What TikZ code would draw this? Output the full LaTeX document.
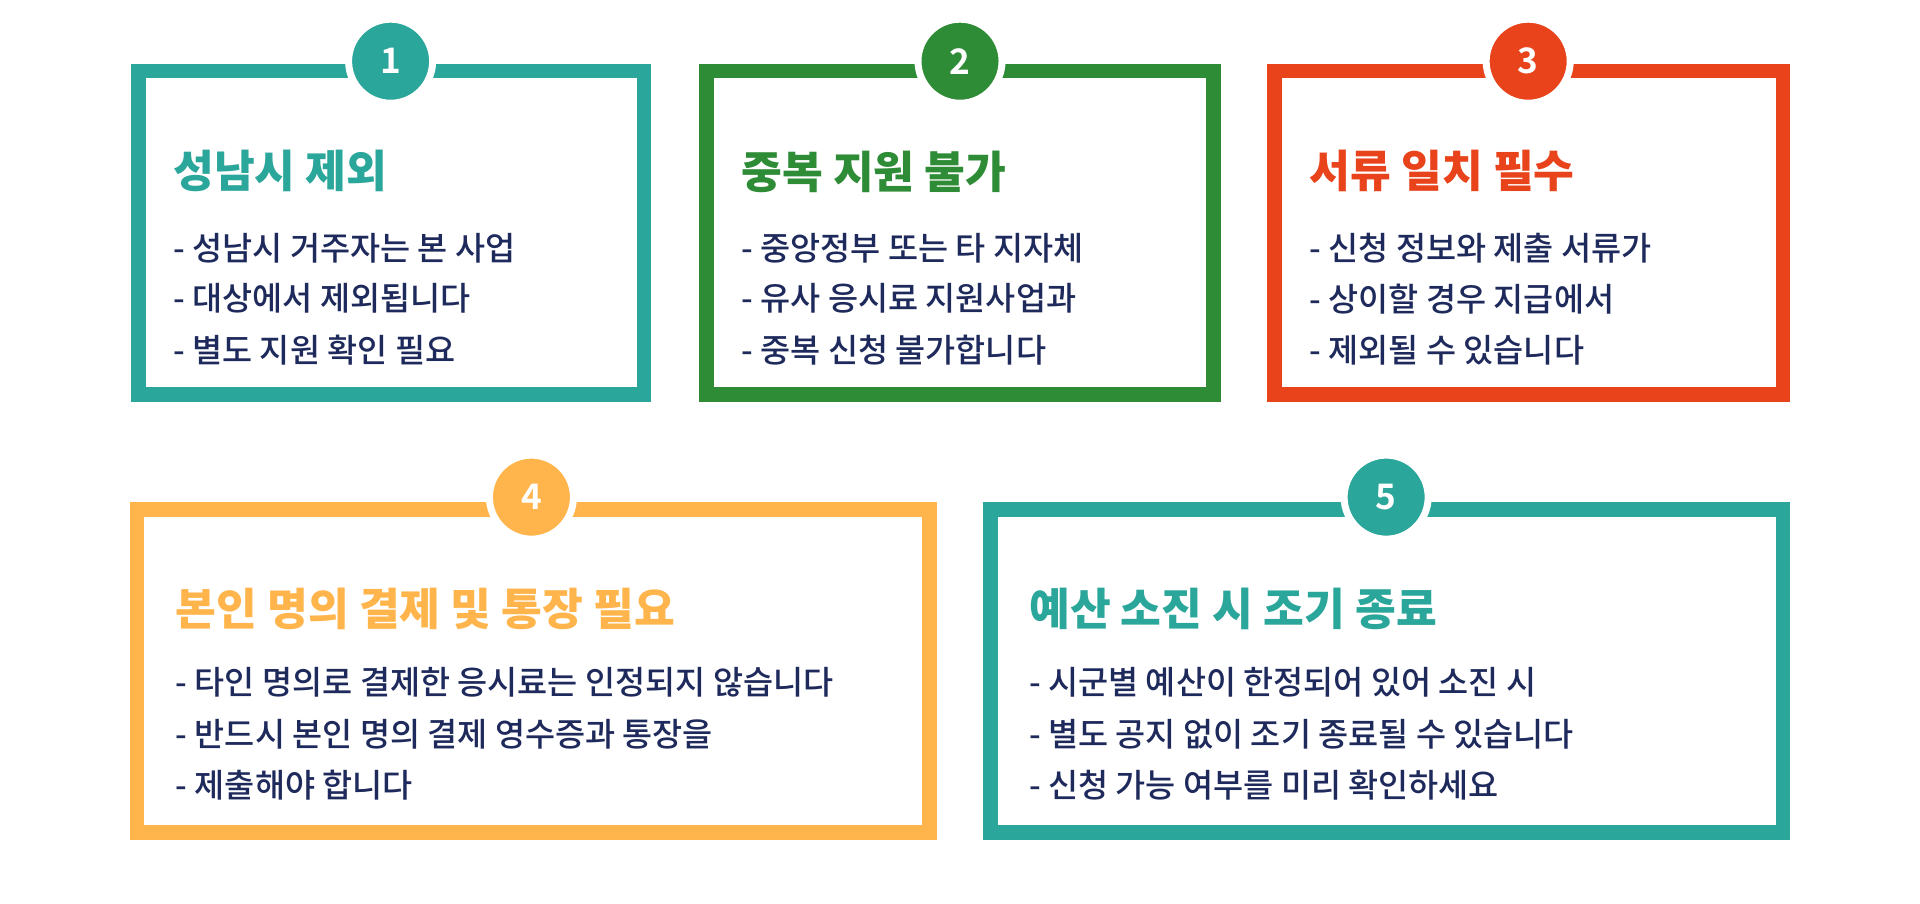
\documentclass[tikz,border=0pt]{standalone}
\usepackage{fontspec}
\setmainfont{Noto Sans CJK KR Medium}
\newfontfamily\kbold{Noto Sans CJK KR Black}
\newfontfamily\kbadge{Noto Sans CJK KR Bold}
\definecolor{cteal}{HTML}{2BA69A}
\definecolor{cgreen}{HTML}{2E8B36}
\definecolor{cred}{HTML}{E8431B}
\definecolor{corange}{HTML}{FFB54C}
\definecolor{cnavy}{HTML}{1F2A5C}
\begin{document}
\begin{tikzpicture}[x=0.012245cm,y=-0.012245cm,
  card/.style={draw=#1,line width=0.147cm},
  badge/.style={circle,fill=#1,draw=white,line width=0.07cm,minimum size=0.84cm,text=white,font=\kbadge\fontsize{10}{12}\selectfont},
  ttl/.style={anchor=west,inner sep=0pt,text=#1,font=\kbold\fontsize{12.6}{14}\selectfont},
  body/.style={anchor=west,inner sep=0pt,text=cnavy,font=\fontsize{9.3}{11}\selectfont}]
\useasboundingbox (0,0) rectangle (1568,738);
\fill[white] (0,0) rectangle (1568,738);
% cards
\draw[card=cteal] (113,58) rectangle (526,322);
\draw[card=cgreen] (577,58) rectangle (991,322);
\draw[card=cred] (1041,58) rectangle (1456,322);
\draw[card=corange] (112,416) rectangle (759,680);
\draw[card=cteal] (809,416) rectangle (1456,680);
% badges
\node[badge=cteal] (b1) at (319,50) {1};
\node[badge=cgreen] (b2) at (784,50) {2};
\node[badge=cred] (b3) at (1248,50) {3};
\node[badge=corange] (b4) at (434,406) {4};
\node[badge=cteal] (b5) at (1132,406) {5};
% card 1
\node[ttl=cteal] (t1) at (141,140) {성남시 제외};
\node[body] (l11) at (141,203) {- 성남시 거주자는 본 사업};
\node[body] (l12) at (141,244) {- 대상에서 제외됩니다};
\node[body] (l13) at (141,286) {- 별도 지원 확인 필요};
% card 2
\node[ttl=cgreen] (t2) at (605,140) {중복 지원 불가};
\node[body] (l21) at (605,203) {- 중앙정부 또는 타 지자체};
\node[body] (l22) at (605,244) {- 유사 응시료 지원사업과};
\node[body] (l23) at (605,286) {- 중복 신청 불가합니다};
% card 3
\node[ttl=cred] (t3) at (1069,140) {서류 일치 필수};
\node[body] (l31) at (1069,203) {- 신청 정보와 제출 서류가};
\node[body] (l32) at (1069,244) {- 상이할 경우 지급에서};
\node[body] (l33) at (1069,286) {- 제외될 수 있습니다};
% card 4
\node[ttl=corange] (t4) at (143,497) {본인 명의 결제 및 통장 필요};
\node[body] (l41) at (143,557) {- 타인 명의로 결제한 응시료는 인정되지 않습니다};
\node[body] (l42) at (143,600) {- 반드시 본인 명의 결제 영수증과 통장을};
\node[body] (l43) at (143,641) {- 제출해야 합니다};
% card 5
\node[ttl=cteal] (t5) at (840,497) {예산 소진 시 조기 종료};
\node[body] (l51) at (840,557) {- 시군별 예산이 한정되어 있어 소진 시};
\node[body] (l52) at (840,600) {- 별도 공지 없이 조기 종료될 수 있습니다};
\node[body] (l53) at (840,641) {- 신청 가능 여부를 미리 확인하세요};
\end{tikzpicture}
\end{document}
